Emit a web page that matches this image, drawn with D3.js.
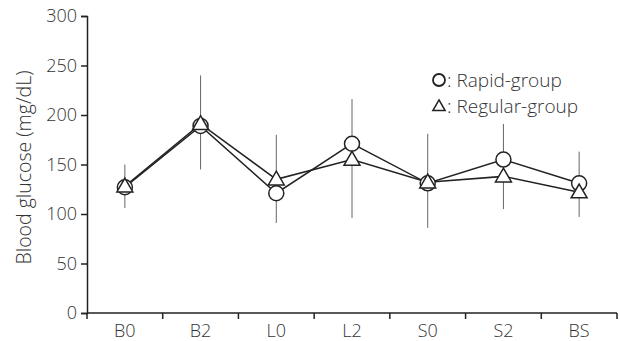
<!DOCTYPE html>
<html>
<head>
<meta charset="utf-8">
<script src="https://cdn.jsdelivr.net/npm/d3@7"></script>
<style>
  body { margin: 0; background: #fff; }
  text { font-family: "Open Sans", "Noto Sans", sans-serif; font-weight: 300; fill: #333; }
</style>
</head>
<body>
<script>
// values
const categories = ["B0", "B2", "L0", "L2", "S0", "S2", "BS"];
const rapid = [127, 189, 121, 171, 131, 155, 131];
const regular = [128, 191, 135, 155, 132, 138, 122];
const errHigh = [150, 240, 180, 216, 181, 191, 163];
const errLow = [106, 145, 91, 96, 86, 105, 97];
const yTicks = [0, 50, 100, 150, 200, 250, 300];

const width = 620, height = 341;
const margin = {top: 16, right: 3, bottom: 28, left: 87};

const svg = d3.select("body").append("svg")
    .attr("width", width)
    .attr("height", height);

const g = svg.append("g")
    .attr("transform", "translate(" + margin.left + "," + margin.top + ")");

const w = width - margin.left - margin.right;
const h = height - margin.top - margin.bottom;

const x = d3.scaleBand().domain(categories).range([0, w]);
const y = d3.scaleLinear().domain([0, 300]).range([h, 0]);
const cx = d => x(d) + x.bandwidth() / 2;

// y axis
const yAxis = g.append("g")
    .call(d3.axisLeft(y).tickValues(yTicks).tickSize(6).tickPadding(4));
yAxis.select(".domain").attr("stroke", "#222").attr("stroke-width", 1.5);
yAxis.selectAll(".tick line").attr("stroke", "#222").attr("stroke-width", 1.5);
yAxis.selectAll(".tick text").style("font-size", "18px").attr("fill", "#333");

// x axis, ticks sit on the band edges
const xAxis = g.append("g").attr("transform", "translate(0," + h + ")");
xAxis.append("line")
    .attr("x1", 0).attr("x2", w)
    .attr("stroke", "#222").attr("stroke-width", 1.5);
xAxis.selectAll(".edge")
    .data(categories.concat(["end"]))
    .enter().append("line")
    .attr("class", "edge")
    .attr("x1", (d, i) => i * x.step())
    .attr("x2", (d, i) => i * x.step())
    .attr("y1", 0).attr("y2", 6)
    .attr("stroke", "#222").attr("stroke-width", 1.5);
xAxis.selectAll(".lab")
    .data(categories)
    .enter().append("text")
    .attr("class", "lab")
    .attr("x", cx)
    .attr("y", 24)
    .attr("text-anchor", "middle")
    .style("font-size", "18px")
    .text(d => d);

// axis title
svg.append("text")
    .attr("transform", "translate(31," + (margin.top + h / 2 + 3) + ") rotate(-90)")
    .attr("text-anchor", "middle")
    .style("font-size", "19.5px")
    .text("Blood glucose (mg/dL)");

// error bars
g.selectAll(".err")
    .data(categories)
    .enter().append("line")
    .attr("class", "err")
    .attr("x1", cx).attr("x2", cx)
    .attr("y1", (d, i) => y(errHigh[i]))
    .attr("y2", (d, i) => y(errLow[i]))
    .attr("stroke", "#666")
    .attr("stroke-width", 1);

// lines
const line = d3.line().x((d, i) => cx(categories[i])).y(d => y(d));
[rapid, regular].forEach(s => {
    g.append("path")
        .datum(s)
        .attr("d", line)
        .attr("fill", "none")
        .attr("stroke", "#222")
        .attr("stroke-width", 1.5);
});

// markers
g.selectAll(".circ")
    .data(rapid)
    .enter().append("circle")
    .attr("cx", (d, i) => cx(categories[i]))
    .attr("cy", d => y(d))
    .attr("r", 7.5)
    .attr("fill", "#fff")
    .attr("stroke", "#222")
    .attr("stroke-width", 1.5);

const tri = d3.symbol().type(d3.symbolTriangle).size(110);
g.selectAll(".tri")
    .data(regular)
    .enter().append("path")
    .attr("d", tri)
    .attr("transform", (d, i) => "translate(" + cx(categories[i]) + "," + (y(d) + 1) + ")")
    .attr("fill", "#fff")
    .attr("stroke", "#222")
    .attr("stroke-width", 1.5);

// legend
const leg = svg.append("g").attr("transform", "translate(439,80)");
leg.append("circle")
    .attr("r", 6)
    .attr("fill", "#fff")
    .attr("stroke", "#222")
    .attr("stroke-width", 1.8);
leg.append("path")
    .attr("d", d3.symbol().type(d3.symbolTriangle).size(65))
    .attr("transform", "translate(0,27)")
    .attr("fill", "#fff")
    .attr("stroke", "#222")
    .attr("stroke-width", 1.5);
leg.append("text")
    .attr("x", 8).attr("y", 7)
    .style("font-size", "19px")
    .text(": Rapid-group");
leg.append("text")
    .attr("x", 8).attr("y", 33)
    .style("font-size", "19px")
    .text(": Regular-group");
</script>
</body>
</html>
